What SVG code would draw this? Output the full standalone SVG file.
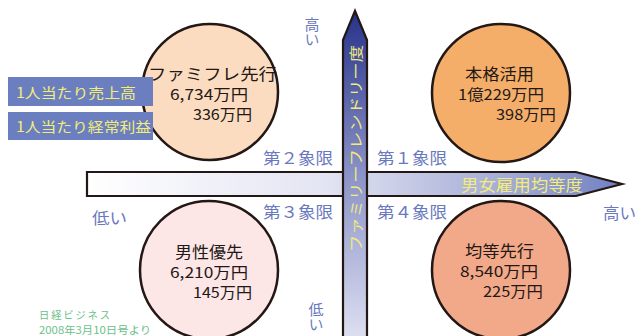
<svg xmlns="http://www.w3.org/2000/svg" width="636" height="336" viewBox="0 0 636 336">
<defs>
<linearGradient id="hg" x1="87" y1="0" x2="622" y2="0" gradientUnits="userSpaceOnUse">
<stop offset="0" stop-color="#ffffff"/>
<stop offset="0.45" stop-color="#e2e4f2"/>
<stop offset="0.8" stop-color="#a0a8d4"/>
<stop offset="1" stop-color="#6f80c2"/>
</linearGradient>
<linearGradient id="vg" x1="0" y1="11" x2="0" y2="336" gradientUnits="userSpaceOnUse">
<stop offset="0" stop-color="#26328a"/>
<stop offset="0.5" stop-color="#8a92c8"/>
<stop offset="1" stop-color="#dcdef0"/>
</linearGradient>
<style>
.c{stroke:#231815;stroke-width:2.5}
.t{font-family:"Noto Sans CJK JP","Noto Sans",sans-serif;fill:#231815}
.h{font-size:16px}
.n{font-size:15px}
.q{font-family:"Noto Sans CJK JP","Noto Sans",sans-serif;fill:#6a78c0;font-size:16px}
.v{font-family:"Noto Sans CJK JP","Noto Sans",sans-serif;fill:#6a78c0;font-size:15px;writing-mode:tb;glyph-orientation-vertical:0}
.y{font-family:"Noto Sans CJK JP","Noto Sans",sans-serif;fill:#f2ec78;font-size:14px}
.g{font-family:"Noto Sans CJK JP","Noto Sans",sans-serif;fill:#6cc08a;font-size:10.3px}
.box{fill:#6b7fc0}
</style>
</defs>
<rect width="636" height="336" fill="#ffffff"/>

<g id="node-famifure">
<circle class="c" cx="210" cy="92" r="68" fill="#fbdcc0"/>
<text class="t h" x="148" y="80" textLength="129" lengthAdjust="spacingAndGlyphs">ファミフレ先行</text>
<text class="t n" x="170" y="100" textLength="78" lengthAdjust="spacingAndGlyphs">6,734万円</text>
<text class="t n" x="193" y="120" textLength="59" lengthAdjust="spacingAndGlyphs">336万円</text>
</g>

<g id="node-honkaku">
<circle class="c" cx="501" cy="93" r="69" fill="#f4ae6a"/>
<text class="t h" x="465" y="80" textLength="69" lengthAdjust="spacingAndGlyphs">本格活用</text>
<text class="t n" x="458" y="100" textLength="86" lengthAdjust="spacingAndGlyphs">1億229万円</text>
<text class="t n" x="496" y="120" textLength="60" lengthAdjust="spacingAndGlyphs">398万円</text>
</g>

<g id="node-dansei">
<circle class="c" cx="209" cy="270" r="69" fill="#fce6e6"/>
<text class="t h" x="175" y="258" textLength="68" lengthAdjust="spacingAndGlyphs">男性優先</text>
<text class="t n" x="170" y="278" textLength="78" lengthAdjust="spacingAndGlyphs">6,210万円</text>
<text class="t n" x="193" y="298" textLength="59" lengthAdjust="spacingAndGlyphs">145万円</text>
</g>

<g id="node-kintou">
<circle class="c" cx="501" cy="270" r="69" fill="#f2a98a"/>
<text class="t h" x="465" y="257" textLength="69" lengthAdjust="spacingAndGlyphs">均等先行</text>
<text class="t n" x="460" y="277" textLength="78" lengthAdjust="spacingAndGlyphs">8,540万円</text>
<text class="t n" x="483" y="297" textLength="60" lengthAdjust="spacingAndGlyphs">225万円</text>
</g>

<g id="legend">
<rect class="box" x="8" y="77" width="145" height="29"/>
<text class="y" x="16" y="98" textLength="120" lengthAdjust="spacingAndGlyphs">1人当たり売上高</text>
<rect class="box" x="8" y="112" width="145" height="28"/>
<text class="y" x="16" y="132" textLength="135" lengthAdjust="spacingAndGlyphs">1人当たり経常利益</text>
</g>

<g id="connectors">
<g id="axis-x">
<path d="M87,172 L576,172 L622,184 L576,196 L87,196 Z" fill="url(#hg)" stroke="#231815" stroke-width="2.2" stroke-linejoin="miter"/>
<text class="y" x="461" y="191" style="font-size:16px" textLength="122" lengthAdjust="spacingAndGlyphs">男女雇用均等度</text>
</g>
<g id="axis-y">
<path d="M343,340 L343,40 L355,11 L367,40 L367,340" fill="url(#vg)" stroke="#231815" stroke-width="2.2"/>
<text class="y" transform="translate(355,252) rotate(-90)" dominant-baseline="central" textLength="207" lengthAdjust="spacingAndGlyphs">ファミリーフレンドリー度</text>
</g>
</g>

<g id="labels">
<text class="q" x="263" y="164" textLength="70" lengthAdjust="spacingAndGlyphs">第２象限</text>
<text class="q" x="377" y="164" textLength="70" lengthAdjust="spacingAndGlyphs">第１象限</text>
<text class="q" x="263" y="218" textLength="70" lengthAdjust="spacingAndGlyphs">第３象限</text>
<text class="q" x="377" y="218" textLength="70" lengthAdjust="spacingAndGlyphs">第４象限</text>
<text class="q" x="92" y="224" textLength="35" lengthAdjust="spacingAndGlyphs">低い</text>
<text class="q" x="603" y="219" textLength="33" lengthAdjust="spacingAndGlyphs">高い</text>
<text class="v" x="312" y="17">高い</text>
<text class="v" x="316" y="302">低い</text>
<text class="g" x="39" y="319" textLength="71" lengthAdjust="spacing">日経ビジネス</text>
<text class="g" x="39" y="334" textLength="112" lengthAdjust="spacingAndGlyphs">2008年3月10日号より</text>
</g>
</svg>
